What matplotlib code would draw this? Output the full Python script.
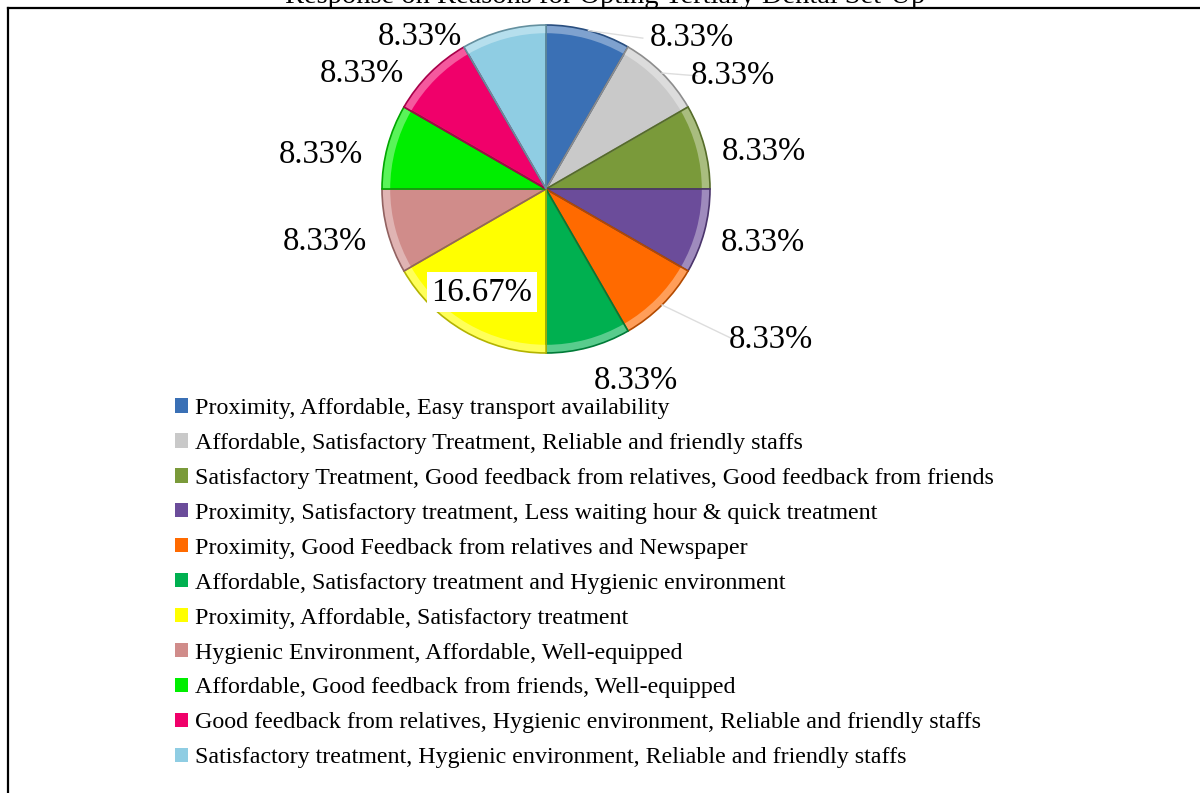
import numpy as np
import matplotlib.pyplot as plt
from matplotlib.patches import Wedge
import matplotlib.colors as mcolors

title = "Response on Reasons for Opting Tertiary Dental Set-Up"
reasons = [
    "Proximity, Affordable, Easy transport availability",
    "Affordable, Satisfactory Treatment, Reliable and friendly staffs",
    "Satisfactory Treatment, Good feedback from relatives, Good feedback from friends",
    "Proximity, Satisfactory treatment, Less waiting hour & quick treatment",
    "Proximity, Good Feedback from relatives and Newspaper",
    "Affordable, Satisfactory treatment and Hygienic environment",
    "Proximity, Affordable, Satisfactory treatment",
    "Hygienic Environment, Affordable, Well-equipped",
    "Affordable, Good feedback from friends, Well-equipped",
    "Good feedback from relatives, Hygienic environment, Reliable and friendly staffs",
    "Satisfactory treatment, Hygienic environment, Reliable and friendly staffs",
]
percent = [8.33, 8.33, 8.33, 8.33, 8.33, 8.33, 16.67, 8.33, 8.33, 8.33, 8.33]
colors = ['#3A70B5', '#C9C9C9', '#7A9A3A', '#6B4C9A', '#FF6A00', '#00B050',
          '#FFFF00', '#D08C8A', '#00EE00', '#F0006A', '#8FCDE3']

# label placement in units of pie radius
label_xy = [(0.89, 0.92), (1.14, 0.69), (1.33, 0.23), (1.32, -0.33), (1.37, -0.92),
            (0.55, -1.17), (-0.39, -0.63), (-1.35, -0.32), (-1.37, 0.21),
            (-1.12, 0.70), (-0.77, 0.93)]

W, H = 1200, 793
cx, cy, R = 546, 189, 164

plt.rcParams['font.family'] = ['Liberation Serif', 'DejaVu Serif']
fig = plt.figure(figsize=(W / 100, H / 100), dpi=100)
ax = fig.add_axes([0, 0, 1, 1])


def shade(c, f):
    r, g, b = mcolors.to_rgb(c)
    if f < 1:
        return (r * f, g * f, b * f)
    return (r + (1 - r) * (f - 1), g + (1 - g) * (f - 1), b + (1 - b) * (f - 1))


wedges, _ = ax.pie(percent, colors=colors, startangle=90, counterclock=False,
                   radius=1, center=(0, 0), frame=True,
                   wedgeprops=dict(edgecolor='none'))
ax.set_xlim(-cx / R, (W - cx) / R)
ax.set_ylim(-(H - cy) / R, cy / R)
ax.set_aspect('auto')
ax.axis('off')

# bevel: light rim and darker edges on each wedge
for w, c in zip(wedges, colors):
    rim = Wedge((0, 0), 1.0, w.theta1, w.theta2, width=0.05,
                facecolor=shade(c, 1.35), edgecolor='none')
    ax.add_patch(rim)
    edge = Wedge((0, 0), 1.0, w.theta1, w.theta2, facecolor='none',
                 edgecolor=shade(c, 0.7), linewidth=1.2)
    ax.add_patch(edge)

# faint leader lines
for i in (0, 1, 4):
    w = wedges[i]
    a = np.deg2rad((w.theta1 + w.theta2) / 2)
    x0, y0 = np.cos(a), np.sin(a)
    lx, ly = label_xy[i]
    ax.plot([x0, lx - 0.22 if i != 0 else lx - 0.3], [y0, ly], color='#DDDDDD', lw=1)

for i, (p, (lx, ly)) in enumerate(zip(percent, label_xy)):
    box = None
    if p > 10:
        box = dict(boxstyle='square,pad=0.15', facecolor='white', edgecolor='none')
    ax.text(lx, ly, f"{p:.2f}%", fontsize=23.5, ha='center', va='center', bbox=box)

fig.legend(wedges, reasons, loc='upper left', bbox_to_anchor=(175 / W, 1 - 398 / H),
           frameon=False, fontsize=17.3, handlelength=0.54, handleheight=0.54,
           handletextpad=0.3, labelspacing=0.58, borderpad=0, borderaxespad=0)

fig.text(605 / W, 1 - 3 / H, title, fontsize=20.5, ha='center', va='baseline')

# frame around chart area
fig.add_artist(plt.Line2D([8 / W, 8 / W], [0, 1 - 8 / H], color='black', lw=1.6))
fig.add_artist(plt.Line2D([8 / W, 1], [1 - 8 / H, 1 - 8 / H], color='black', lw=1.6))

fig.savefig('out.png', dpi=100, facecolor='white')
